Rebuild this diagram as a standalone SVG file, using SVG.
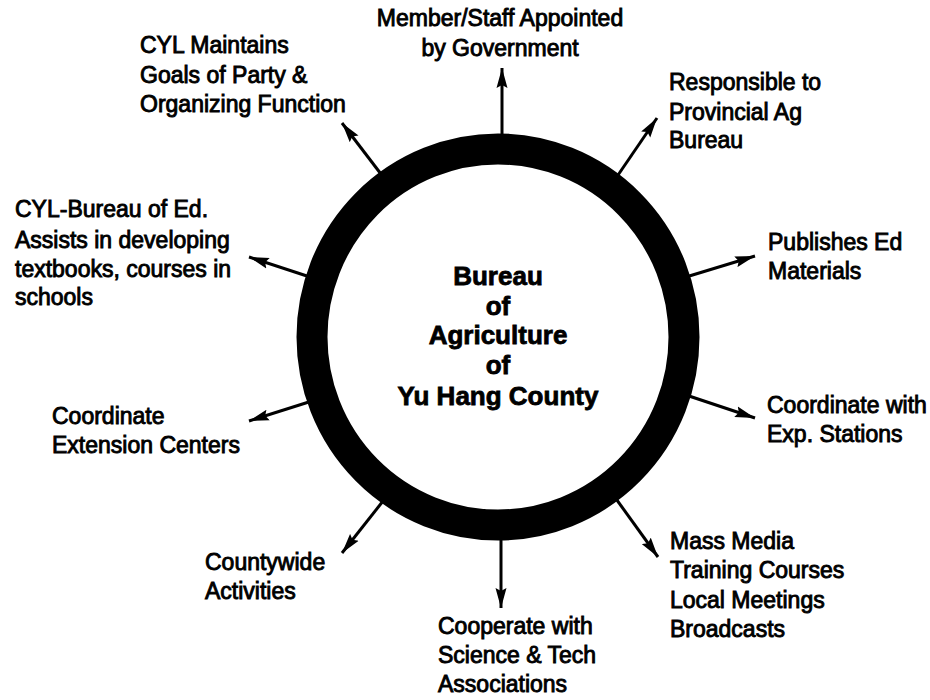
<svg xmlns="http://www.w3.org/2000/svg" width="930" height="700" viewBox="0 0 930 700">
  <defs>
    <marker id="head" viewBox="0 0 20 12" refX="20" refY="6" markerWidth="20" markerHeight="12" markerUnits="userSpaceOnUse" orient="auto">
      <path d="M0,0.5 L20,6 L0,11.5 L3,6 Z" fill="#000"/>
    </marker>
    <style>
      .lbl { font-family: "Liberation Sans", Arial, sans-serif; font-size: 23px; fill: #000; stroke: #000; stroke-width: 0.9px; }
      .hub { font-family: "Liberation Sans", Arial, sans-serif; font-size: 26px; font-weight: bold; fill: #000; stroke: #000; stroke-width: 0.8px; text-anchor: middle; }
      .conn { stroke: #000; stroke-width: 3; fill: none; marker-end: url(#head); }
      .ring { fill: none; stroke: #000; stroke-width: 31; }
    </style>
  </defs>

  <rect width="930" height="700" fill="#fff"/>

  <!-- spokes from the hub ring to each function -->
  <g id="connectors">
    <line class="conn" x1="502" y1="140" x2="502" y2="68"/>
    <line class="conn" x1="384" y1="178" x2="342" y2="123"/>
    <line class="conn" x1="616" y1="178" x2="657" y2="118"/>
    <line class="conn" x1="686" y1="277" x2="755" y2="256"/>
    <line class="conn" x1="686" y1="395" x2="755" y2="418"/>
    <line class="conn" x1="614" y1="496" x2="658" y2="557"/>
    <line class="conn" x1="501" y1="530" x2="501" y2="608"/>
    <line class="conn" x1="387" y1="496" x2="342" y2="553"/>
    <line class="conn" x1="312" y1="401" x2="249" y2="421"/>
    <line class="conn" x1="310" y1="277" x2="249" y2="257"/>
  </g>

  <!-- central hub -->
  <g id="hub">
    <ellipse class="ring" cx="498" cy="337" rx="186" ry="188"/>
    <text class="hub" x="498" y="285">Bureau</text>
    <text class="hub" x="498" y="315">of</text>
    <text class="hub" x="498" y="344">Agriculture</text>
    <text class="hub" x="498" y="374">of</text>
    <text class="hub" x="498" y="405">Yu Hang County</text>
  </g>

  <g id="n-appointed">
    <text class="lbl" x="500" y="26" text-anchor="middle">Member/Staff Appointed</text>
    <text class="lbl" x="500" y="56" text-anchor="middle">by Government</text>
  </g>

  <g id="n-cyl-goals">
    <text class="lbl" x="140" y="53">CYL Maintains</text>
    <text class="lbl" x="140" y="83">Goals of Party &amp;</text>
    <text class="lbl" x="140" y="112">Organizing Function</text>
  </g>

  <g id="n-provincial">
    <text class="lbl" x="669" y="90">Responsible to</text>
    <text class="lbl" x="669" y="120">Provincial Ag</text>
    <text class="lbl" x="669" y="148">Bureau</text>
  </g>

  <g id="n-publishes">
    <text class="lbl" x="768" y="250">Publishes Ed</text>
    <text class="lbl" x="768" y="279">Materials</text>
  </g>

  <g id="n-exp-stations">
    <text class="lbl" x="767" y="413">Coordinate with</text>
    <text class="lbl" x="767" y="442">Exp. Stations</text>
  </g>

  <g id="n-media">
    <text class="lbl" x="670" y="549">Mass Media</text>
    <text class="lbl" x="670" y="578">Training Courses</text>
    <text class="lbl" x="670" y="608">Local Meetings</text>
    <text class="lbl" x="670" y="637">Broadcasts</text>
  </g>

  <g id="n-science">
    <text class="lbl" x="438" y="634">Cooperate with</text>
    <text class="lbl" x="438" y="663">Science &amp; Tech</text>
    <text class="lbl" x="438" y="692">Associations</text>
  </g>

  <g id="n-countywide">
    <text class="lbl" x="205" y="570">Countywide</text>
    <text class="lbl" x="205" y="599">Activities</text>
  </g>

  <g id="n-extension">
    <text class="lbl" x="52" y="424">Coordinate</text>
    <text class="lbl" x="52" y="453">Extension Centers</text>
  </g>

  <g id="n-cyl-education">
    <text class="lbl" x="15" y="217">CYL-Bureau of Ed.</text>
    <text class="lbl" x="15" y="248">Assists in developing</text>
    <text class="lbl" x="15" y="277">textbooks, courses in</text>
    <text class="lbl" x="15" y="305">schools</text>
  </g>
</svg>
